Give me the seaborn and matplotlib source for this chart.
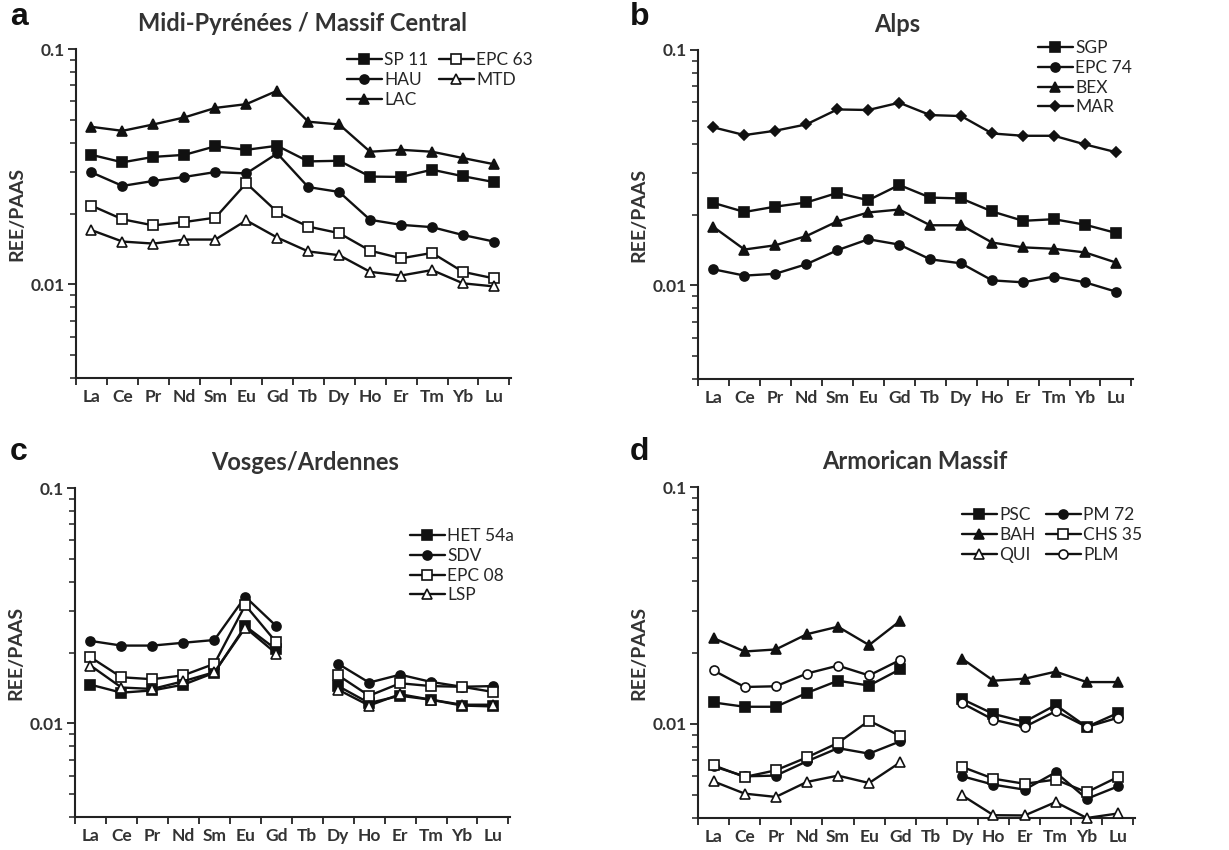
import numpy as np
import pandas as pd
import seaborn as sns
import matplotlib.pyplot as plt
from matplotlib.lines import Line2D
from matplotlib.ticker import LogLocator, NullFormatter, FixedLocator, FixedFormatter

sns.set_style("ticks")
plt.rcParams["font.family"] = ["Lato", "DejaVu Sans"]
plt.rcParams["text.color"] = "#262626"

elements = ["La", "Ce", "Pr", "Nd", "Sm", "Eu", "Gd", "Tb", "Dy", "Ho", "Er", "Tm", "Yb", "Lu"]
nan = np.nan

# a - Midi-Pyrenees / Massif Central
sp11 = [0.0355, 0.0330, 0.0348, 0.0355, 0.0386, 0.0373, 0.0388, 0.0333, 0.0335, 0.0287, 0.0286, 0.0307, 0.0288, 0.0272]
hau = [0.0299, 0.0262, 0.0275, 0.0286, 0.0300, 0.0296, 0.0360, 0.0259, 0.0247, 0.0188, 0.0179, 0.0175, 0.0162, 0.0152]
lac = [0.0467, 0.0449, 0.0478, 0.0512, 0.0562, 0.0583, 0.0665, 0.0491, 0.0478, 0.0366, 0.0373, 0.0366, 0.0344, 0.0324]
epc63 = [0.0216, 0.0189, 0.0178, 0.0184, 0.0192, 0.0269, 0.0203, 0.0176, 0.0165, 0.0139, 0.0129, 0.0136, 0.0113, 0.0106]
mtd = [0.0170, 0.0152, 0.0149, 0.0155, 0.0155, 0.0187, 0.0158, 0.0138, 0.0133, 0.0113, 0.0109, 0.0115, 0.0101, 0.0098]

# b - Alps
sgp = [0.0224, 0.0205, 0.0216, 0.0225, 0.0247, 0.0230, 0.0267, 0.0236, 0.0234, 0.0206, 0.0188, 0.0191, 0.0181, 0.0167]
epc74 = [0.0117, 0.0110, 0.0112, 0.0123, 0.0141, 0.0157, 0.0149, 0.0129, 0.0124, 0.0105, 0.0103, 0.0109, 0.0103, 0.0094]
bex = [0.0177, 0.0142, 0.0148, 0.0162, 0.0187, 0.0204, 0.0210, 0.0180, 0.0180, 0.0152, 0.0145, 0.0143, 0.0138, 0.0125]
mar = [0.0469, 0.0435, 0.0454, 0.0483, 0.0559, 0.0556, 0.0597, 0.0529, 0.0524, 0.0442, 0.0432, 0.0432, 0.0397, 0.0368]

# c - Vosges/Ardennes (no Tb)
het54a = [0.0146, 0.0135, 0.0138, 0.0146, 0.0164, 0.0259, 0.0206, nan, 0.0144, 0.0122, 0.0131, 0.0126, 0.0119, 0.0118]
sdv = [0.0224, 0.0214, 0.0214, 0.0220, 0.0226, 0.0345, 0.0259, nan, 0.0179, 0.0149, 0.0161, 0.0150, 0.0143, 0.0144]
epc08 = [0.0191, 0.0157, 0.0154, 0.0160, 0.0179, 0.0318, 0.0221, nan, 0.0160, 0.0131, 0.0148, 0.0144, 0.0143, 0.0136]
lsp = [0.0176, 0.0142, 0.0140, 0.0151, 0.0165, 0.0255, 0.0198, nan, 0.0139, 0.0119, 0.0133, 0.0126, 0.0120, 0.0120]

# d - Armorican Massif (no Tb)
psc = [0.0123, 0.0118, 0.0118, 0.0135, 0.0152, 0.0145, 0.0170, nan, 0.0127, 0.0110, 0.0102, 0.0120, 0.0097, 0.0111]
bah = [0.0230, 0.0202, 0.0206, 0.0239, 0.0257, 0.0215, 0.0272, nan, 0.0188, 0.0152, 0.0155, 0.0166, 0.0150, 0.0150]
qui = [0.00571, 0.00507, 0.00491, 0.00568, 0.00604, 0.00562, 0.00687, nan, 0.00498, 0.00411, 0.00410, 0.00467, 0.00400, 0.00418]
pm72 = [0.00661, 0.00600, 0.00604, 0.00694, 0.00789, 0.00748, 0.00843, nan, 0.00600, 0.00553, 0.00527, 0.00624, 0.00482, 0.00544]
chs35 = [0.00668, 0.00596, 0.00636, 0.00721, 0.00830, 0.0103, 0.00889, nan, 0.00657, 0.00586, 0.00558, 0.00581, 0.00514, 0.00596]
plm = [0.0168, 0.0143, 0.0144, 0.0163, 0.0176, 0.0160, 0.0186, nan, 0.0122, 0.0104, 0.0097, 0.0113, 0.0097, 0.0106]

W, H = 1229, 850
fig = plt.figure(figsize=(W / 100, H / 100), dpi=100)

LW = 1.7
MS = 6.5


def style(marker, filled):
    return dict(color="#111111", lw=LW, marker=marker, markersize=MS if marker != "D" else 5,
                markerfacecolor="#111111" if filled else "white",
                markeredgecolor="#111111", markeredgewidth=1.2)


def panel(rect, letter, letter_xy, title, title_cx, samples, ncol, leg_xy):
    l, t, r, b = rect
    ax = fig.add_axes([l / W, 1 - b / H, (r - l) / W, (b - t) / H])
    ax.set_yscale("log")
    for name, vals, marker, filled in samples:
        df = pd.DataFrame({"pos": np.arange(len(elements)), "ratio": vals})
        df["seg"] = df["ratio"].isna().cumsum()
        df = df.dropna()
        for _, seg in df.groupby("seg"):
            sns.lineplot(data=seg, x="pos", y="ratio", ax=ax, legend=False,
                         clip_on=False, zorder=3, **style(marker, filled))
    ax.set_ylim(0.004, 0.1)
    ax.set_xlim(-0.5, 13.55)
    ax.yaxis.set_major_locator(FixedLocator([0.01, 0.1]))
    ax.yaxis.set_major_formatter(FixedFormatter(["0.01", "0.1"]))
    ax.yaxis.set_minor_locator(LogLocator(base=10, subs=np.arange(2, 10)))
    ax.yaxis.set_minor_formatter(NullFormatter())
    ax.set_xticks(np.arange(-0.5, 14, 1))
    ax.set_xticklabels([])
    ax.set_xticks(np.arange(len(elements)), minor=True)
    ax.set_xticklabels(elements, minor=True)
    ax.tick_params(axis="x", which="minor", length=0, pad=8, labelsize=12.5)
    ax.tick_params(axis="x", which="major", length=5, width=1.3, color="#222222")
    ax.tick_params(axis="y", which="major", length=6, width=1.3, labelsize=12.5, pad=2, color="#222222")
    ax.tick_params(axis="y", which="minor", length=4, width=1.1, color="#222222")
    for lab in ax.get_xticklabels(minor=True) + ax.get_yticklabels():
        lab.set_fontweight("bold")
        lab.set_color("#333333")
    ax.set_xlabel("")
    ax.set_ylabel("REE/PAAS", fontsize=14, fontweight="bold", color="#333333", labelpad=4)
    sns.despine(ax=ax)
    for s in ("left", "bottom"):
        ax.spines[s].set_linewidth(1.5)
        ax.spines[s].set_color("#222222")
    ax.set_title(title, fontsize=17, fontweight="bold", color="#333333", pad=13,
                 x=(title_cx - l) / (r - l))
    fig.text(letter_xy[0] / W, 1 - letter_xy[1] / H, letter, fontsize=23, fontweight="bold",
             family="Liberation Sans", color="#111111", va="center")
    handles = [Line2D([], [], **style(m, f)) for _, _, m, f in samples]
    labels = [s[0] for s in samples]
    ax.legend(handles, labels, ncol=ncol, loc="upper left",
              bbox_to_anchor=(leg_xy[0] / W, 1 - leg_xy[1] / H), bbox_transform=fig.transFigure,
              frameon=False, fontsize=12.5, handlelength=2.0, handletextpad=0.15,
              labelspacing=0.22, columnspacing=0.6, borderpad=0, borderaxespad=0)
    return ax


panel((76, 49, 511, 378), "a", (10, 17), "Midi-Pyrénées / Massif Central", 303,
      [("SP 11", sp11, "s", True), ("HAU", hau, "o", True), ("LAC", lac, "^", True),
       ("EPC 63", epc63, "s", False), ("MTD", mtd, "^", False)], 2, (347, 52))
panel((698, 50, 1133, 379), "b", (630, 17), "Alps", 897,
      [("SGP", sgp, "s", True), ("EPC 74", epc74, "o", True), ("BEX", bex, "^", True),
       ("MAR", mar, "D", True)], 1, (1038, 40))
panel((75, 488, 510, 817), "c", (10, 452), "Vosges/Ardennes", 305,
      [("HET 54a", het54a, "s", True), ("SDV", sdv, "o", True), ("EPC 08", epc08, "s", False),
       ("LSP", lsp, "^", False)], 1, (410, 528))
panel((698, 487, 1135, 818), "d", (630, 452), "Armorican Massif", 915,
      [("PSC", psc, "s", True), ("BAH", bah, "^", True), ("QUI", qui, "^", False),
       ("PM 72", pm72, "o", True), ("CHS 35", chs35, "s", False), ("PLM", plm, "o", False)],
      2, (962, 507))

fig.savefig("out.png", dpi=100)
